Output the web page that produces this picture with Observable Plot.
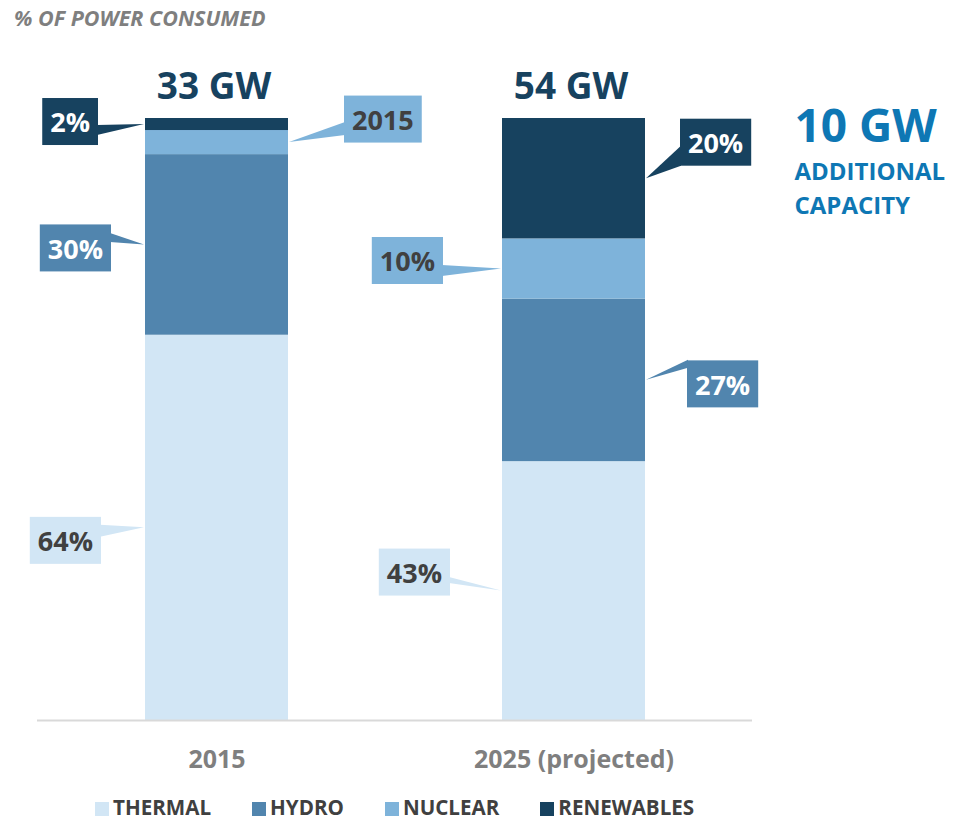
<!DOCTYPE html>
<html>
<head>
<meta charset="utf-8">
<script src="https://cdn.jsdelivr.net/npm/d3@7"></script>
<script src="https://cdn.jsdelivr.net/npm/@observablehq/plot@0.6"></script>
<style>
  body { margin: 0; background: #fff; font-family: "Open Sans", sans-serif; }
  #wrap { position: relative; width: 954px; height: 821px; overflow: hidden; background: #fff; }
  #title { position: relative; height: 40px; }
  #title span { position: absolute; left: 14px; top: 7px; font-size: 21.5px; line-height: 21px; font-weight: 700; font-style: italic; color: #7f7f7f; white-space: nowrap; }
  #chart svg { display: block; }
  #legend { position: relative; height: 36px; }
  #legend .items { position: absolute; left: 95px; top: 0; display: flex; column-gap: 41px; }
  #legend .item { position: relative; height: 34px; padding-left: 18px; }
  #legend .sw { position: absolute; left: 0; top: 17px; width: 14px; height: 14px; }
  #legend .lab { display: block; margin-top: 12px; font-size: 20.6px; line-height: 20px; font-weight: 700; color: #404040; white-space: nowrap; }
</style>
</head>
<body>
<div id="wrap">
  <div id="title"></div>
  <div id="chart"></div>
  <div id="legend"></div>
</div>
<script>
// ---- data ----
const titleText = "% OF POWER CONSUMED";
const categories = ["2015", "2025 (projected)"];
const sources = ["THERMAL", "HYDRO", "NUCLEAR", "RENEWABLES"];
const share2015 = [64, 30, 4, 2];
const share2025 = [43, 27, 10, 20];
const calloutText2015 = ["64%", "30%", "2015", "2%"];
const calloutText2025 = ["43%", "27%", "10%", "20%"];
const totals = ["33 GW", "54 GW"];
const noteLines = ["10 GW", "ADDITIONAL", "CAPACITY"];

// ---- styles ----
const colors = ["#d2e6f5", "#5185ae", "#7eb3da", "#17425f"];
const calloutTextColors = ["#404040", "#ffffff", "#404040", "#ffffff"];
const FONT = "'Open Sans', sans-serif";

// callout placement (pixels relative to bar edge / segment middle)
const calloutLayout = [
  [ {side: "left",  gap: 43, dy: 13,    base: [-15.5, -3.5]},
    {side: "left",  gap: 33, dy: 3.5,   base: [-15, -6]},
    {side: "right", gap: 55, dy: -23,   base: [3, 16]},
    {side: "left",  gap: 46, dy: -2.5,  base: [3.5, 13.5]} ],
  [ {side: "left",  gap: 51, dy: -18.5, base: [5, 11]},
    {side: "right", gap: 41, dy: 4,     base: [-24, -16]},
    {side: "left",  gap: 58, dy: -8,    base: [4.5, 15.5]},
    {side: "right", gap: 34, dy: -36,   base: [3.5, 23.5]} ]
];

const sharesByYear = [share2015, share2025];
const textsByYear = [calloutText2015, calloutText2025];

const rows = sources.flatMap((s, i) => categories.map((c, ci) => ({
  year: c, source: s, share: sharesByYear[ci][i]
})));

const measureCtx = document.createElement("canvas").getContext("2d");
measureCtx.font = "700 27px 'Open Sans'";

function renderCallouts(index, scales) {
  const x = scales.x, y = scales.y;
  const bw = x.bandwidth();
  const g = d3.create("svg:g")
    .attr("font-family", FONT)
    .attr("font-weight", 700)
    .attr("font-size", 27);
  categories.forEach((cat, ci) => {
    let cum = 0;
    sharesByYear[ci].forEach((v, si) => {
      const L = calloutLayout[ci][si];
      const label = textsByYear[ci][si];
      const tipY = y(cum + v / 2);
      cum += v;
      const tipX = L.side === "left" ? x(cat) - 1 : x(cat) + bw + 1;
      const w = measureCtx.measureText(label).width + 16;
      const h = 47;
      const cy = tipY + L.dy;
      const edge = L.side === "left" ? tipX - L.gap : tipX + L.gap;
      const bx = L.side === "left" ? edge - w : edge;
      const inset = L.side === "left" ? -1 : 1;
      g.append("path")
        .attr("d", `M${edge + inset},${cy + L.base[0]}L${tipX},${tipY}L${edge + inset},${cy + L.base[1]}Z`)
        .attr("fill", colors[si]);
      g.append("rect")
        .attr("x", bx).attr("y", cy - h / 2)
        .attr("width", w).attr("height", h)
        .attr("fill", colors[si]);
      g.append("text")
        .attr("x", bx + w / 2).attr("y", cy + 1)
        .attr("dy", "0.36em")
        .attr("text-anchor", "middle")
        .attr("fill", calloutTextColors[si])
        .text(label);
    });
  });
  return g.node();
}

const chart = Plot.plot({
  width: 954,
  height: 745,
  marginTop: 78,
  marginBottom: 65,
  marginLeft: 37,
  marginRight: 202,
  style: {fontFamily: FONT, overflow: "visible", background: "#fff"},
  x: {domain: categories, paddingInner: 0.6, paddingOuter: 0.3, align: 0.5, label: null},
  y: {domain: [0, 100], axis: null},
  color: {domain: sources, range: colors},
  marks: [
    Plot.barY(rows, {x: "year", y: "share", fill: "source"}),
    Plot.ruleY([0], {stroke: "#d9d9d9", strokeWidth: 2}),
    Plot.axisX({tickSize: 0, tickPadding: 30, fontSize: 25, fontWeight: 700, color: "#7f7f7f", label: null}),
    Plot.text(totals, {
      x: (d, i) => categories[i],
      y: (d, i) => d3.sum(sharesByYear[i]),
      text: d => d,
      dx: -3, dy: -20, lineAnchor: "bottom", textAnchor: "middle",
      fontSize: 37, fontWeight: 700, fill: "#17425f"
    }),
    Plot.text([noteLines[0]], {
      frameAnchor: "top-right", text: d => d,
      dx: 42, dy: 23, lineAnchor: "bottom", textAnchor: "start",
      fontSize: 46, fontWeight: 700, fill: "#0e77b4"
    }),
    Plot.text([noteLines.slice(1).join("\n")], {
      frameAnchor: "top-right", text: d => d,
      dx: 42, dy: 95, lineAnchor: "bottom", textAnchor: "start", lineHeight: 34 / 24,
      fontSize: 24, fontWeight: 700, fill: "#0e77b4"
    }),
    renderCallouts
  ]
});

document.getElementById("chart").appendChild(chart);

// title
const t = document.createElement("span");
t.textContent = titleText;
document.getElementById("title").appendChild(t);

// legend
const items = document.createElement("div");
items.className = "items";
sources.forEach((s, i) => {
  const it = document.createElement("div");
  it.className = "item";
  const sw = document.createElement("span");
  sw.className = "sw";
  sw.style.background = colors[i];
  const lab = document.createElement("span");
  lab.className = "lab";
  lab.textContent = s;
  it.appendChild(sw);
  it.appendChild(lab);
  items.appendChild(it);
});
document.getElementById("legend").appendChild(items);
</script>
</body>
</html>
